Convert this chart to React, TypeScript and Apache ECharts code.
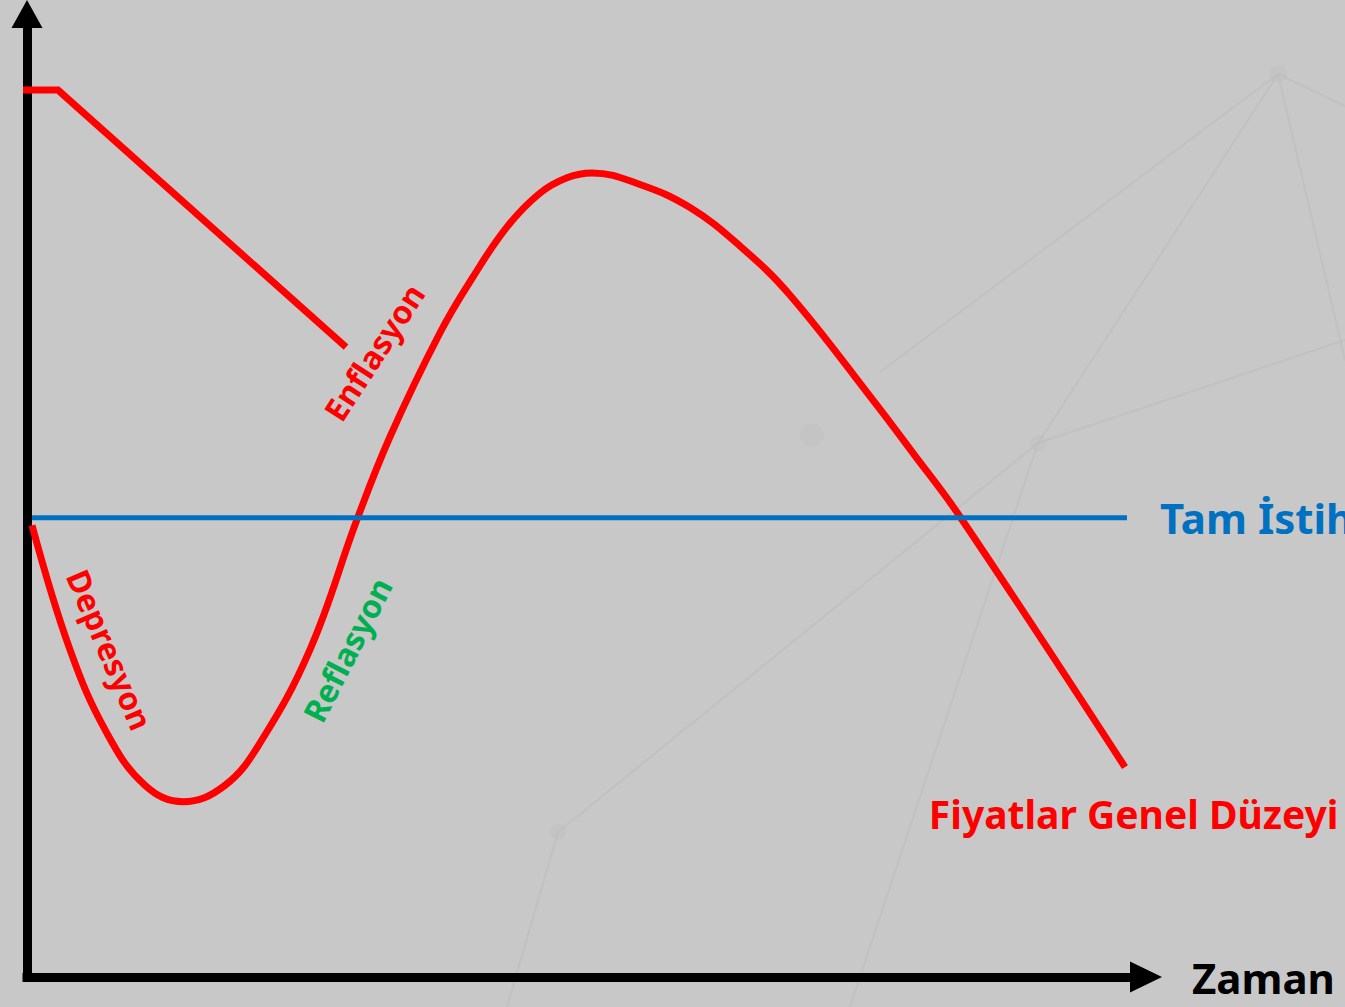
import React, { useEffect, useRef } from "react";
import * as echarts from "echarts";

// Time (x, 0..100) and price level (y, 0..100)
const curveTime = [0.45, 3.84, 7.15, 10.55, 13.94, 17.69, 20.82, 25.29, 29.49, 32.44, 36.91, 39.86, 42.9, 45.84, 48.26, 50.49, 54.78, 59.25, 63.72, 68.19, 75.6, 79.18, 83.38, 98.12];
const curvePrice = [46.9, 34.0, 25.3, 19.9, 18.2, 19.9, 24.3, 34.0, 47.5, 56.1, 66.9, 72.7, 77.9, 81.4, 83.0, 83.5, 82.3, 79.9, 75.9, 70.8, 59.9, 54.4, 47.8, 21.8];

const inflTime = [-0.89, 2.77, 28.51];
const inflPrice = [92.1, 92.1, 65.4];

const fullEmpTime = [0.45, 98.3];
const fullEmpLevel = 47.7;

// label anchors [time, price, rotation]
const labelNames = ["Enflasyon", "Reflasyon", "Depresyon", "Fiyatlar Genel Düzeyi"];
const labelTime = [31.0, 28.6, 7.42, 98.9];
const labelPrice = [64.9, 34.0, 34.0, 17.0];
const labelRotate = [57, 63, -67, 0];
const labelColors = ["#FF0000", "#00B050", "#FF0000", "#FF0000"];
const labelSizes = [32, 32, 32, 39];

const FONT = "'Noto Sans', 'DejaVu Sans', sans-serif";

export default function App() {
  const ref = useRef<HTMLDivElement>(null);
  useEffect(() => {
    if (!ref.current) return;
    const chart = echarts.init(ref.current, null, { renderer: "svg" });
    const curve = curveTime.map((t, i) => [t, curvePrice[i]]);
    const infl = inflTime.map((t, i) => [t, inflPrice[i]]);
    const emp = fullEmpTime.map((t) => [t, fullEmpLevel]);
    const marks = labelNames.map((n, i) => ({
      name: n,
      coord: [labelTime[i], labelPrice[i]],
      symbolSize: 0,
      label: {
        show: true,
        position: "inside",
        formatter: n,
        rotate: labelRotate[i],
        color: labelColors[i],
        fontSize: labelSizes[i],
        fontWeight: "bold",
        fontFamily: FONT,
      },
    }));

    const axisLine = (size: number[]) => ({
      show: true,
      onZero: false,
      symbol: ["none", "triangle"],
      symbolSize: size,
      lineStyle: { color: "#000", width: 9, cap: "square" },
    });

    const net = (pts: number[][]) => ({
      type: "polyline",
      silent: true,
      shape: { points: pts },
      style: { stroke: "#b4b4b4", lineWidth: 2, opacity: 0.3, fill: null },
    });

    chart.setOption({
      animation: false,
      backgroundColor: "#c8c8c8",
      graphic: [
        net([[1345, 106], [1278, 74], [880, 372]]),
        net([[1278, 74], [1038, 443], [558, 832], [507, 1007]]),
        net([[1278, 74], [1345, 360]]),
        net([[1345, 340], [1038, 443], [850, 1007]]),
        { type: "circle", silent: true, shape: { cx: 1278, cy: 74, r: 9 }, style: { fill: "#bdbdbd", opacity: 0.4 } },
        { type: "circle", silent: true, shape: { cx: 1038, cy: 443, r: 8 }, style: { fill: "#bdbdbd", opacity: 0.4 } },
        { type: "circle", silent: true, shape: { cx: 558, cy: 832, r: 8 }, style: { fill: "#bdbdbd", opacity: 0.4 } },
        { type: "circle", silent: true, shape: { cx: 812, cy: 435, r: 12 }, style: { fill: "#bebebe", opacity: 0.3 } },
      ],
      grid: { left: 27, right: 199, top: 14, bottom: 30 },
      xAxis: {
        type: "value",
        min: 0,
        max: 100,
        name: "Zaman",
        nameLocation: "end",
        nameGap: 46,
        nameTextStyle: { color: "#000", fontSize: 42, fontWeight: "bold", fontFamily: FONT, verticalAlign: "middle" },
        axisLine: axisLine([31, 32]),
        axisTick: { show: false },
        axisLabel: { show: false },
        splitLine: { show: false },
      },
      yAxis: {
        type: "value",
        min: 0,
        max: 100,
        axisLine: axisLine([31, 28]),
        axisTick: { show: false },
        axisLabel: { show: false },
        splitLine: { show: false },
      },
      series: [
        {
          type: "line",
          data: curve,
          smooth: 0.4,
          symbol: "none",
          clip: false,
          z: 3,
          lineStyle: { color: "#FF0000", width: 7 },
          markPoint: { symbol: "circle", silent: true, data: marks },
        },
        {
          type: "line",
          data: infl,
          symbol: "none",
          clip: false,
          z: 3,
          lineStyle: { color: "#FF0000", width: 7, join: "miter" },
        },
        {
          type: "line",
          data: emp,
          symbol: "none",
          clip: false,
          z: 4,
          lineStyle: { color: "#0070C0", width: 5 },
          endLabel: {
            show: true,
            formatter: "Tam İstihdam",
            distance: 33,
            color: "#0070C0",
            fontSize: 42,
            fontWeight: "bold",
            fontFamily: FONT,
          },
        },
      ],
    });
    return () => chart.dispose();
  }, []);
  return (
    <div
      ref={ref}
      style={{ position: "fixed", left: 0, top: 0, width: 1345, height: 1007, overflow: "hidden" }}
    />
  );
}
